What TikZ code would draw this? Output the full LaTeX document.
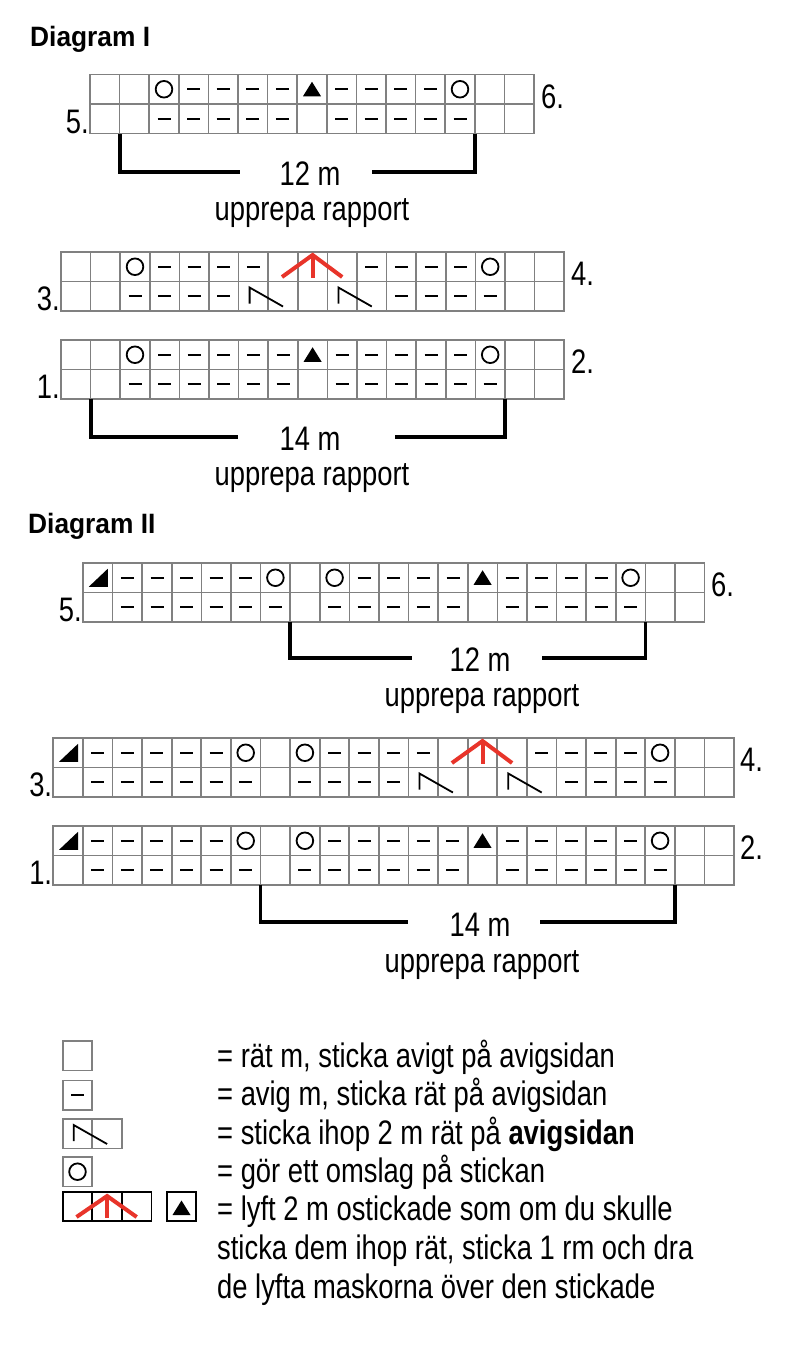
\documentclass[tikz,border=0pt]{standalone}
\usepackage{fontspec}
\setmainfont{Liberation Sans}[FakeStretch=0.805]
\newfontfamily\titlefont{Liberation Sans}[FakeStretch=0.94]
\definecolor{gridgray}{RGB}{128,128,128}
\definecolor{knitred}{RGB}{232,52,42}
\newcommand\cw{29.6}
\newcommand\rh{29.5}
\newcommand\bodysize{\fontsize{34}{40}\selectfont}
% cell symbols, #1 #2 = centre of cell
\newcommand\syme[2]{}
\newcommand\symd[2]{\draw[sym] ({#1-6.5},#2) -- ({#1+6.5},#2);}
\newcommand\symo[2]{\draw[sym] (#1,#2) circle (8.3);}
\newcommand\symt[2]{\fill (#1,{#2-7.5}) -- ({#1+9},{#2+7}) -- ({#1-9},{#2+7}) -- cycle;}
\newcommand\symq[2]{\fill ({#1-9},{#2+9}) -- ({#1+10},{#2+9}) -- ({#1+10},{#2-9}) -- cycle;}
% grid: left, top, number of columns
\newcommand\chartgrid[3]{%
  \foreach \i in {0,...,#3} {\draw[gridl] ({#1+\i*\cw},#2) -- ({#1+\i*\cw},{#2+2*\rh});}
  \foreach \j in {0,1,2} {\draw[gridl] (#1,{#2+\j*\rh}) -- ({#1+#3*\cw},{#2+\j*\rh});}
}
% row of symbols: left, top of row, list
\newcommand\symrow[3]{%
  \foreach \s [count=\c] in {#3} {%
    \pgfmathsetmacro\xx{#1+(\c-0.5)*\cw}%
    \pgfmathsetmacro\yy{#2+0.5*\rh}%
    \csname sym\s\endcsname{\xx}{\yy}}%
}
% two-stitch decrease: left x of first cell, top of row
\newcommand\decr[2]{\draw[sym] ({#1+11},{#2+22}) -- ({#1+11},{#2+6}) -- ({#1+\cw+14.8},{#2+25});}
% red double decrease over 3 cells: left x, top of row, apex offset
\newcommand\redsym[3]{%
  \draw[redl] ({#1+0.5*\cw-1},{#2+25}) -- ({#1+1.5*\cw},{#2+#3}) -- ({#1+2.5*\cw},{#2+25});
  \draw[redl] ({#1+1.5*\cw},{#2+#3}) -- ({#1+1.5*\cw},{#2+26});}
\begin{document}
\begin{tikzpicture}[x=1pt,y=-1pt,
  gridl/.style={draw=gridgray,line width=1.7pt,line cap=rect},
  blackbox/.style={draw=black,line width=1.7pt,line cap=rect},
  sym/.style={draw=black,line width=1.8pt},
  redl/.style={draw=knitred,line width=4pt},
  brk/.style={draw=black,line width=3.8pt},
  txt/.style={inner sep=0pt,font=\bodysize},
  ttl/.style={inner sep=0pt,font=\titlefont\bfseries\fontsize{28}{32}\selectfont}]
\useasboundingbox (0,0) rectangle (797,1345);
\fill[white] (0,0) rectangle (797,1345);

% ---------------- Diagram I ----------------
\node[ttl,anchor=base west] (t1) at (30,46) {Diagram I};

% rows 5/6
\chartgrid{90}{74.5}{15}
\symrow{90}{74.5}{e,e,o,d,d,d,d,t,d,d,d,d,o,e,e}
\symrow{90}{104}{e,e,d,d,d,d,d,e,d,d,d,d,d,e,e}
\node[txt,anchor=base west] (r6a) at (541,108) {6.};
\node[txt,anchor=base east] (r5a) at (89,133) {5.};
\node[txt,anchor=base] (m12a) at (310,185) {12 m};
\node[txt,anchor=base] (ura) at (312,220) {upprepa rapport};
\coordinate (a1) at (119.6,134); \coordinate (a2) at (474.8,134);
\draw[brk] (a1) -- (119.6,172) -- (240,172);
\draw[brk] (372,172) -- (474.8,172) -- (a2);

% rows 3/4
\chartgrid{61}{252}{17}
\symrow{61}{252}{e,e,o,d,d,d,d,e,e,e,d,d,d,d,o,e,e}
\symrow{61}{281.5}{e,e,d,d,d,d,e,e,e,e,e,d,d,d,d,e,e}
\redsym{268.2}{252}{3}
\decr{238.6}{281.5}
\decr{327.4}{281.5}
\node[txt,anchor=base west] (r4a) at (571,285.5) {4.};
\node[txt,anchor=base east] (r3a) at (60,310.5) {3.};

% rows 1/2
\chartgrid{61}{340}{17}
\symrow{61}{340}{e,e,o,d,d,d,d,d,t,d,d,d,d,d,o,e,e}
\symrow{61}{369.5}{e,e,d,d,d,d,d,d,e,d,d,d,d,d,d,e,e}
\node[txt,anchor=base west] (r2a) at (571,373.5) {2.};
\node[txt,anchor=base east] (r1a) at (60,398.5) {1.};
\node[txt,anchor=base] (m14a) at (310,450) {14 m};
\node[txt,anchor=base] (urb) at (312,485) {upprepa rapport};
\coordinate (b1) at (90.6,399); \coordinate (b2) at (504.6,399);
\draw[brk] (b1) -- (90.6,437) -- (238,437);
\draw[brk] (395,437) -- (504.6,437) -- (b2);

% ---------------- Diagram II ----------------
\node[ttl,anchor=base west] (t2) at (28,533) {Diagram II};

% rows 5/6
\chartgrid{83}{563}{21}
\symrow{83}{563}{q,d,d,d,d,d,o,e,o,d,d,d,d,t,d,d,d,d,o,e,e}
\symrow{83}{592.5}{e,d,d,d,d,d,d,e,d,d,d,d,d,e,d,d,d,d,d,e,e}
\node[txt,anchor=base west] (r6b) at (711,596.5) {6.};
\node[txt,anchor=base east] (r5b) at (82,621.5) {5.};
\node[txt,anchor=base] (m12b) at (480,671) {12 m};
\node[txt,anchor=base] (urc) at (482,706) {upprepa rapport};
\coordinate (c1) at (290.2,622); \coordinate (c2) at (645.4,622);
\draw[brk] (c1) -- (290.2,658) -- (412,658);
\draw[brk] (542,658) -- (645.4,658) -- (c2);

% rows 3/4
\chartgrid{53.3}{738}{23}
\symrow{53.3}{738}{q,d,d,d,d,d,o,e,o,d,d,d,d,e,e,e,d,d,d,d,o,e,e}
\symrow{53.3}{767.5}{e,d,d,d,d,d,d,e,d,d,d,d,e,e,e,e,e,d,d,d,d,e,e}
\redsym{438.1}{738}{3}
\decr{408.5}{767.5}
\decr{497.3}{767.5}
\node[txt,anchor=base west] (r4b) at (740,771.5) {4.};
\node[txt,anchor=base east] (r3b) at (52.3,796.5) {3.};

% rows 1/2
\chartgrid{53.3}{826}{23}
\symrow{53.3}{826}{q,d,d,d,d,d,o,e,o,d,d,d,d,d,t,d,d,d,d,d,o,e,e}
\symrow{53.3}{855.5}{e,d,d,d,d,d,d,e,d,d,d,d,d,d,e,d,d,d,d,d,d,e,e}
\node[txt,anchor=base west] (r2b) at (740,859.5) {2.};
\node[txt,anchor=base east] (r1b) at (52.3,884.5) {1.};
\node[txt,anchor=base] (m14b) at (480,936) {14 m};
\node[txt,anchor=base] (urd) at (482,972) {upprepa rapport};
\coordinate (d1) at (260.5,885); \coordinate (d2) at (674.9,885);
\draw[brk] (d1) -- (260.5,922) -- (408,922);
\draw[brk] (540,922) -- (674.9,922) -- (d2);

% ---------------- Legend ----------------
\draw[gridl] (62.7,1041) rectangle (92.3,1070.5);
\draw[gridl] (62.7,1080.5) rectangle (92.3,1110);
\symd{77.5}{1095.2}
\draw[gridl] (62.7,1119) rectangle (121.9,1148.5);
\draw[gridl] (92.3,1119) -- (92.3,1148.5);
\decr{62.7}{1119}
\draw[gridl] (62.7,1157) rectangle (92.3,1186.5);
\symo{77.5}{1171.7}
\draw[blackbox] (62.7,1192) rectangle (151.5,1221);
\draw[blackbox] (92.3,1192) -- (92.3,1221);
\draw[blackbox] (121.9,1192) -- (121.9,1221);
\redsym{62.7}{1192}{4}
\draw[blackbox] (166.7,1192) rectangle (196.3,1221);
\symt{181.5}{1208}

\node[txt,anchor=base west] (l1) at (217,1067) {= rät m, sticka avigt på avigsidan};
\node[txt,anchor=base west] (l2) at (217,1105.5) {= avig m, sticka rät på avigsidan};
\node[txt,anchor=base west] (l3) at (217,1144) {= sticka ihop 2 m rät på \textbf{avigsidan}};
\node[txt,anchor=base west] (l4) at (217,1182) {= gör ett omslag på stickan};
\node[txt,anchor=base west] (l5) at (217,1220.5) {= lyft 2 m ostickade som om du skulle};
\node[txt,anchor=base west] (l6) at (217,1259) {sticka dem ihop rät, sticka 1 rm och dra};
\node[txt,anchor=base west] (l7) at (217,1298) {de lyfta maskorna över den stickade};
\end{tikzpicture}
\end{document}
